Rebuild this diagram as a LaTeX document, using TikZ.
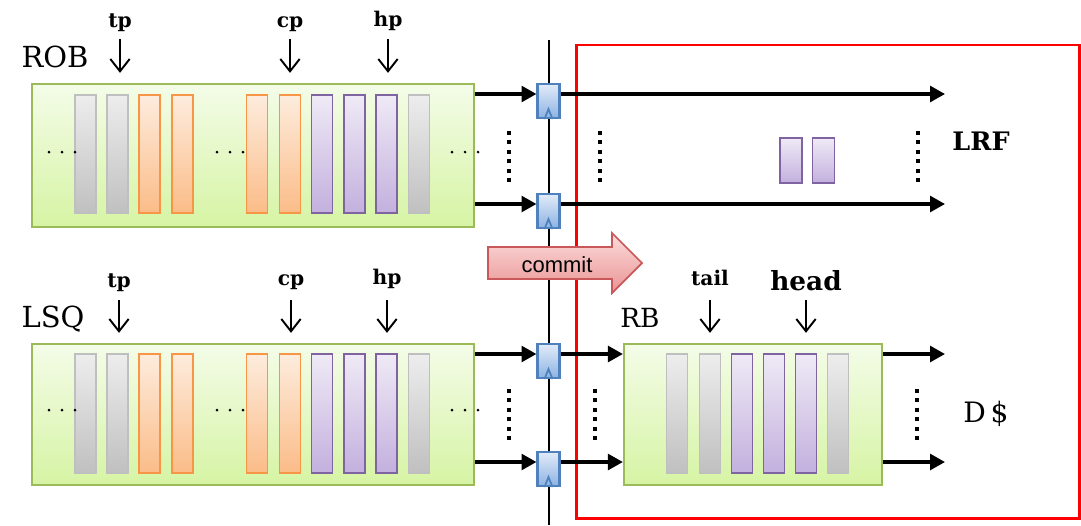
\documentclass[tikz,border=0pt]{standalone}
\usepackage{fontspec}
\setmainfont{DejaVu Serif}
\newfontfamily\commitfont{Liberation Sans}
\usetikzlibrary{arrows.meta}

\definecolor{boxline}{HTML}{9BBB59}
\definecolor{boxtop}{HTML}{F4FCE8}
\definecolor{boxbot}{HTML}{D6F4A4}
\definecolor{grayline}{HTML}{BFBFBF}
\definecolor{graytop}{HTML}{EDEDED}
\definecolor{graybot}{HTML}{C0C0C0}
\definecolor{orgline}{HTML}{F79646}
\definecolor{orgtop}{HTML}{FDECDD}
\definecolor{orgbot}{HTML}{FBBC88}
\definecolor{purline}{HTML}{8064A2}
\definecolor{purtop}{HTML}{EFEAF6}
\definecolor{purbot}{HTML}{C3B0DE}
\definecolor{latchline}{HTML}{4F81BD}
\definecolor{latchtop}{HTML}{E2EBF8}
\definecolor{latchbot}{HTML}{8CB3E3}
\definecolor{cmtline}{HTML}{C9585A}
\definecolor{cmttop}{HTML}{FCDCDC}
\definecolor{cmtbot}{HTML}{EA9494}

\tikzset{
  queue/.style={draw=boxline, line width=1.3pt, top color=boxtop, bottom color=boxbot,
    minimum width=8.84cm, inner sep=0pt},
  entry/.style={line width=1.1pt, minimum width=0.42cm, minimum height=2.37cm, inner sep=0pt},
  gentry/.style={entry, draw=grayline, top color=graytop, bottom color=graybot},
  oentry/.style={entry, draw=orgline, top color=orgtop, bottom color=orgbot},
  pentry/.style={entry, draw=purline, top color=purtop, bottom color=purbot},
  latch/.style={draw=latchline, line width=1.2pt, top color=latchtop, bottom color=latchbot,
    minimum width=0.44cm, minimum height=0.68cm, inner sep=0pt},
  bus/.style={line width=1.8pt, -{Triangle[length=8.5pt,width=9pt]}},
  ptr/.style={line width=1.1pt, -{Straight Barb[length=7pt,width=11pt]}, shorten >=5.7pt},
  vdotline/.style={line width=2pt, dash pattern=on 2.2pt off 3.2pt},
  qlabel/.style={anchor=base, inner sep=0pt, font=\fontsize{16.5}{16.5}\selectfont},
  plabel/.style={anchor=base, inner sep=0pt, font=\fontsize{11.5}{11.5}\selectfont\bfseries},
}

\begin{document}
\begin{tikzpicture}[x=0.02cm,y=-0.02cm]
  \useasboundingbox (0,0) rectangle (1081,525);
  \draw[red, line width=1.7pt] (576,45) rectangle (1079,518);
  \draw[line width=1.4pt] (549,40) -- (549,525);

  \node[queue, minimum height=2.86cm] (rob) at (253,155.5) {};
  \node[queue, minimum height=2.82cm] (lsq) at (253,414.5) {};
  \node[queue, minimum width=5.16cm, minimum height=2.82cm] (rb) at (753,414.5) {};

  \foreach \cx/\cs [count=\i] in {85.5/gentry, 117.5/gentry, 149.5/oentry, 182.5/oentry,
      257/oentry, 290/oentry, 322/pentry, 354.5/pentry, 386.5/pentry, 419/gentry} {
    \node[\cs] (rob\i) at (\cx,154) {};
    \node[\cs] (lsq\i) at (\cx,413.5) {};
  }
  \foreach \cx/\cs [count=\i] in {677/gentry, 710/gentry, 742/pentry, 774/pentry,
      806/pentry, 838/gentry} {
    \node[\cs] (rb\i) at (\cx,413.5) {};
  }
  \node[pentry, minimum height=0.9cm, minimum width=0.44cm] (lrf1) at (791,160.5) {};
  \node[pentry, minimum height=0.9cm, minimum width=0.44cm] (lrf2) at (823.5,160.5) {};

  \foreach \dx in {49,62,75,217,230,243,452,465,478} {
    \fill (\dx,152) circle[radius=0.03cm];
    \fill (\dx,410) circle[radius=0.03cm];
  }
  \draw[vdotline] (509,131) -- (509,184);
  \draw[vdotline] (600,131) -- (600,184);
  \draw[vdotline] (918,131) -- (918,184);
  \draw[vdotline] (509,389) -- (509,442);
  \draw[vdotline] (595,389) -- (595,442);
  \draw[vdotline] (917,389) -- (917,442);

  \coordinate (row1) at (0,94);
  \coordinate (row2) at (0,204);
  \coordinate (row3) at (0,354);
  \coordinate (row4) at (0,462);
  \coordinate (out) at (945,0);
  \node[latch] (l1) at (548.5,101) {};
  \node[latch] (l2) at (548.5,211) {};
  \node[latch] (l3) at (548.5,361) {};
  \node[latch] (l4) at (548.5,469) {};
  \begin{scope}[bus]
    \draw (row1 -| rob.east) -- (row1 -| l1.west);
    \draw (row2 -| rob.east) -- (row2 -| l2.west);
    \draw (row3 -| lsq.east) -- (row3 -| l3.west);
    \draw (row4 -| lsq.east) -- (row4 -| l4.west);
    \draw (row1 -| l1.east) -- (row1 -| out);
    \draw (row2 -| l2.east) -- (row2 -| out);
    \draw (row3 -| l3.east) -- (row3 -| rb.west);
    \draw (row4 -| l4.east) -- (row4 -| rb.west);
    \draw (row3 -| rb.east) -- (row3 -| out);
    \draw (row4 -| rb.east) -- (row4 -| out);
  \end{scope}
  \foreach \l in {l1,l2,l3,l4} {
    \draw[latchline, line width=1pt] ([xshift=-0.08cm]\l.south) -- ([yshift=0.2cm]\l.south)
      -- ([xshift=0.08cm]\l.south);
  }

  \draw[cmtline, line width=1pt, top color=cmttop, bottom color=cmtbot]
    (488,247) -- (612,247) -- (612,233) -- (642,263) -- (612,293) -- (612,279) -- (488,279) -- cycle;
  \node[anchor=base, inner sep=0pt, font=\commitfont\fontsize{12.5}{12.5}\selectfont] (commit) at (557,272) {commit};

  \node[qlabel] (robname) at (55,67) {ROB};
  \node[qlabel] (lsqname) at (53,327) {LSQ};
  \node[qlabel, font=\fontsize{15}{15}\selectfont] (rbname) at (640,327) {RB};
  \node[qlabel, font=\fontsize{14.5}{14.5}\selectfont\bfseries] (lrf) at (981,150) {LRF};
  \node[qlabel, font=\fontsize{16}{16}\selectfont] (dcache) at (986,422) {D\,\$};

  \node[plabel] (rtp) at (120,27) {tp};
  \node[plabel] (rcp) at (290,27) {cp};
  \node[plabel] (rhp) at (388,26) {hp};
  \node[plabel] (ltp) at (119,287) {tp};
  \node[plabel] (lcp) at (291,285) {cp};
  \node[plabel] (lhp) at (387,284) {hp};
  \node[plabel] (tail) at (710,285) {tail};
  \node[plabel, font=\fontsize{15}{15}\selectfont\bfseries] (head) at (806,290) {head};

  \draw[ptr] ([yshift=-0.24cm]rtp.base) -- (rtp.base |- rob.north);
  \draw[ptr] ([yshift=-0.24cm]rcp.base) -- (rcp.base |- rob.north);
  \draw[ptr] ([yshift=-0.26cm]rhp.base) -- (rhp.base |- rob.north);
  \draw[ptr] ([yshift=-0.26cm]ltp.base) -- (ltp.base |- lsq.north);
  \draw[ptr] ([yshift=-0.3cm]lcp.base) -- (lcp.base |- lsq.north);
  \draw[ptr] ([yshift=-0.32cm]lhp.base) -- (lhp.base |- lsq.north);
  \draw[ptr] ([yshift=-0.3cm]tail.base) -- (tail.base |- rb.north);
  \draw[ptr] ([yshift=-0.2cm]head.base) -- (head.base |- rb.north);
\end{tikzpicture}
\end{document}
